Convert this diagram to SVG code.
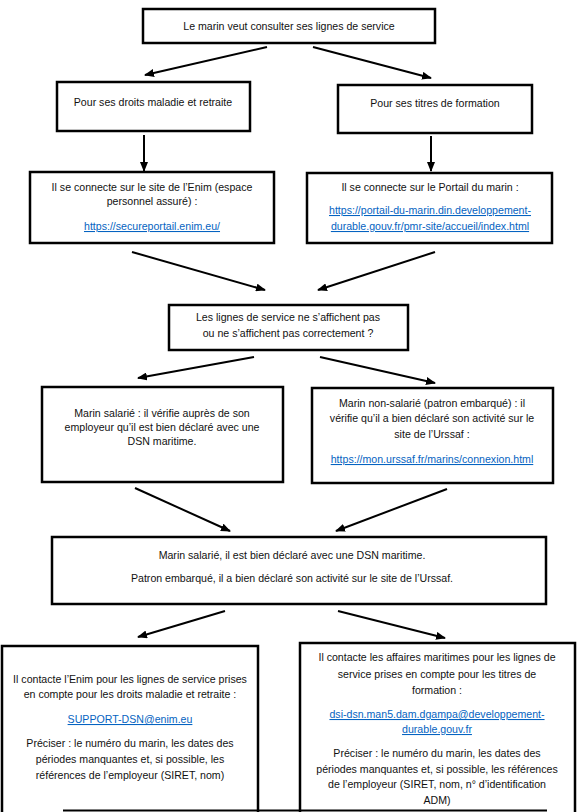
<svg xmlns="http://www.w3.org/2000/svg" width="581" height="812" viewBox="0 0 581 812">
<style>
.box{fill:#fff;stroke:#000;stroke-width:2.5}
.t{font-family:"Liberation Sans",Arial,sans-serif;font-size:10.6px;fill:#111;text-anchor:middle}
.l{fill:#0563C1;text-decoration:underline}
.c{stroke:#000;stroke-width:2;fill:none;marker-end:url(#ah)}
</style>
<defs>
<marker id="ah" markerWidth="10" markerHeight="8" refX="9" refY="4" orient="auto" markerUnits="userSpaceOnUse">
<path d="M0,0 L10,4 L0,8 Z" fill="#000"/>
</marker>
</defs>
<rect width="581" height="812" fill="#fff"/>
<g id="connectors">
<line class="c" x1="267" y1="47" x2="145" y2="75"/>
<line class="c" x1="313" y1="47" x2="431" y2="78"/>
<line class="c" x1="144" y1="135" x2="144" y2="171"/>
<line class="c" x1="431" y1="136" x2="431" y2="171"/>
<line class="c" x1="132" y1="252" x2="265" y2="290"/>
<line class="c" x1="435" y1="252" x2="318" y2="290"/>
<line class="c" x1="254" y1="357" x2="138" y2="378"/>
<line class="c" x1="320" y1="357" x2="435" y2="383"/>
<line class="c" x1="135" y1="488" x2="230" y2="531"/>
<line class="c" x1="447" y1="489" x2="336" y2="531"/>
<line class="c" x1="225" y1="611" x2="138" y2="637"/>
<line class="c" x1="338" y1="611" x2="445" y2="638"/>
</g>
<g id="n1">
<rect class="box" x="143" y="9" width="292" height="34"/>
<text class="t" x="289" y="30">Le marin veut consulter ses lignes de service</text>
</g>
<g id="n2">
<rect class="box" x="57" y="82" width="193" height="49"/>
<text class="t" x="153" y="106">Pour ses droits maladie et retraite</text>
</g>
<g id="n3">
<rect class="box" x="338" y="85" width="194" height="48"/>
<text class="t" x="435" y="107">Pour ses titres de formation</text>
</g>
<g id="n4">
<rect class="box" x="30" y="172" width="244" height="71"/>
<text class="t" x="152" y="191">Il se connecte sur le site de l’Enim (espace</text>
<text class="t" x="152" y="205">personnel assuré) :</text>
<text class="t l" x="152" y="230">https://secureportail.enim.eu/</text>
</g>
<g id="n5">
<rect class="box" x="307" y="173" width="245" height="70"/>
<text class="t" x="430" y="191">Il se connecte sur le Portail du marin :</text>
<text class="t l" x="430" y="214">https://portail-du-marin.din.developpement-</text>
<text class="t l" x="430" y="230">durable.gouv.fr/pmr-site/accueil/index.html</text>
</g>
<g id="n6">
<rect class="box" x="169" y="305" width="239" height="45"/>
<text class="t" x="288" y="321">Les lignes de service ne s’affichent pas</text>
<text class="t" x="288" y="337">ou ne s’affichent pas correctement ?</text>
</g>
<g id="n7">
<rect class="box" x="42" y="387" width="241" height="95"/>
<text class="t" x="162" y="417">Marin salarié : il vérifie auprès de son</text>
<text class="t" x="162" y="431">employeur qu’il est bien déclaré avec une</text>
<text class="t" x="162" y="445">DSN maritime.</text>
</g>
<g id="n8">
<rect class="box" x="312" y="388" width="241" height="95"/>
<text class="t" x="432" y="407">Marin non-salarié (patron embarqué) : il</text>
<text class="t" x="432" y="422">vérifie qu’il a bien déclaré son activité sur le</text>
<text class="t" x="432" y="438">site de l’Urssaf :</text>
<text class="t l" x="432" y="463">https://mon.urssaf.fr/marins/connexion.html</text>
</g>
<g id="n9">
<rect class="box" x="52" y="537" width="494" height="67"/>
<text class="t" x="292" y="559">Marin salarié, il est bien déclaré avec une DSN maritime.</text>
<text class="t" x="292" y="582">Patron embarqué, il a bien déclaré son activité sur le site de l’Urssaf.</text>
</g>
<g id="n10">
<rect class="box" x="2" y="646" width="256" height="180"/>
<text class="t" x="130" y="683">Il contacte l’Enim pour les lignes de service prises</text>
<text class="t" x="130" y="698">en compte pour les droits maladie et retraite :</text>
<text class="t l" x="130" y="723">SUPPORT-DSN@enim.eu</text>
<text class="t" x="130" y="747">Préciser : le numéro du marin, les dates des</text>
<text class="t" x="130" y="763">périodes manquantes et, si possible, les</text>
<text class="t" x="130" y="779">références de l’employeur (SIRET, nom)</text>
</g>
<g id="n11">
<rect class="box" x="300" y="643" width="275" height="190"/>
<text class="t" x="437" y="661">Il contacte les affaires maritimes pour les lignes de</text>
<text class="t" x="437" y="678">service prises en compte pour les titres de</text>
<text class="t" x="437" y="694">formation :</text>
<text class="t l" x="437" y="718">dsi-dsn.man5.dam.dgampa@developpement-</text>
<text class="t l" x="437" y="733">durable.gouv.fr</text>
<text class="t" x="437" y="757">Préciser : le numéro du marin, les dates des</text>
<text class="t" x="437" y="773">périodes manquantes et, si possible, les références</text>
<text class="t" x="437" y="788">de l’employeur (SIRET, nom, n° d’identification</text>
<text class="t" x="437" y="804">ADM)</text>
</g>
<line x1="63" y1="810.5" x2="547" y2="810.5" stroke="#000" stroke-width="2"/>
</svg>
